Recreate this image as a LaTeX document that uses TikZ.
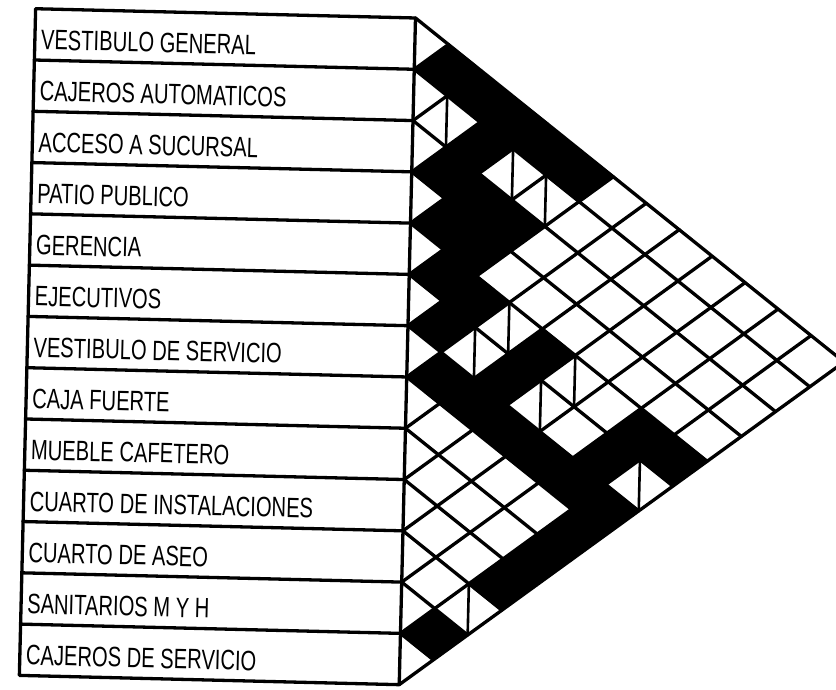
\documentclass[tikz,border=0pt]{standalone}
\usepackage{fontspec}
\newfontfamily\lblfont[FakeStretch=0.72]{Liberation Sans}
\begin{document}
\begin{tikzpicture}[x=1pt,y=1pt,
  ln/.style={line width=3.3pt, line cap=round, line join=round},
  splitln/.style={line width=2.6pt},
  lbl/.style={anchor=base west, inner sep=0pt, font=\lblfont\fontsize{28}{30}\selectfont}]
\useasboundingbox (0,0) rectangle (836,-690);
\clip (0,0) rectangle (836,-690);
\begin{scope}[shift={(415.5,-18)}, rotate=-1.4, transform shape]
  \def\cellw{33.6}
  \def\cellh{51.3}
  \def\hh{25.65}
  % black cells (relationship: direct)
  \foreach \i/\j in {0/1,0/2,0/3,0/4,0/5,1/3,2/3,2/4,2/5,3/4,3/5,4/5,4/6,4/8,4/11,4/12,
                     5/6,5/8,5/11,6/7,6/8,6/9,6/10,6/11,6/12,7/12,8/12,9/12,11/12}{
    \pgfmathsetmacro\cx{(\j-\i)*\cellw}
    \pgfmathsetmacro\cy{-(\i+\j+1)*\hh}
    \fill[black] ({\cx-\cellw},\cy) -- (\cx,{\cy+\hh}) -- ({\cx+\cellw},\cy) -- (\cx,{\cy-\hh}) -- cycle;
  }
  % grid lines of the triangle
  \foreach \k in {0,...,13}{
    \draw[ln] (0,{-\k*\cellh}) -- ({(13-\k)*\cellw},{-(\k+13)*\hh});
    \draw[ln] (0,{-\k*\cellh}) -- ({\k*\cellw},{-\k*\hh});
  }
  % split cells (relationship: indirect)
  \foreach \i/\j in {1/2,1/4,1/5,4/7,4/9,5/7,5/9,5/12,10/12}{
    \pgfmathsetmacro\cx{(\j-\i)*\cellw}
    \pgfmathsetmacro\cy{-(\i+\j+1)*\hh}
    \draw[splitln] (\cx,{\cy+\hh}) -- (\cx,{\cy-\hh});
  }
  % table
  \draw[ln] (-380,0) rectangle (0,{-13*\cellh});
  \foreach \k in {1,...,12}{
    \draw[ln] (-380,{-\k*\cellh}) -- (0,{-\k*\cellh});
  }
  % labels
  \foreach \r/\t in {0/VESTIBULO GENERAL,1/CAJEROS AUTOMATICOS,2/ACCESO A SUCURSAL,
                     3/PATIO PUBLICO,4/GERENCIA,5/EJECUTIVOS,6/VESTIBULO DE SERVICIO,
                     7/CAJA FUERTE,8/MUEBLE CAFETERO,9/CUARTO DE INSTALACIONES,
                     10/CUARTO DE ASEO,11/SANITARIOS M Y H,12/CAJEROS DE SERVICIO}{
    \node[lbl] (row\r) at (-374,{-(\r+0.5)*\cellh-15}) {\t};
  }
\end{scope}
\end{tikzpicture}
\end{document}
